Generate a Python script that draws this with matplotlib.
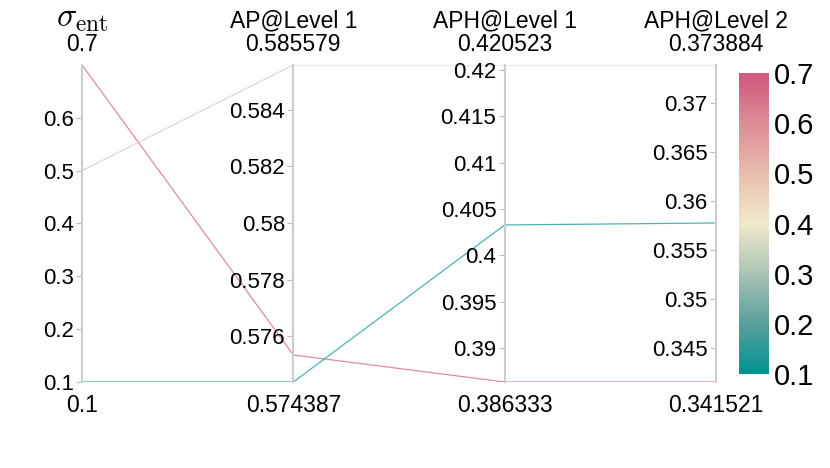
import matplotlib.pyplot as plt
import numpy as np
from matplotlib.colors import LinearSegmentedColormap

plt.rcParams['font.family'] = ['Liberation Sans', 'DejaVu Sans']
plt.rcParams['mathtext.fontset'] = 'cm'

# dimensions of the parallel coordinates plot
dim_labels = [r'$\sigma_{\mathrm{ent}}$', 'AP@Level 1', 'APH@Level 1', 'APH@Level 2']
sigma_ent = [0.7, 0.5, 0.1]
ap_l1 = [0.575340, 0.585579, 0.574387]
aph_l1 = [0.386333, 0.420523, 0.403266]
aph_l2 = [0.341521, 0.373884, 0.357754]

range_labels_top = ['0.7', '0.585579', '0.420523', '0.373884']
range_labels_bottom = ['0.1', '0.574387', '0.386333', '0.341521']

dim_ticks = [
    [0.1, 0.2, 0.3, 0.4, 0.5, 0.6],
    [0.576, 0.578, 0.58, 0.582, 0.584],
    [0.39, 0.395, 0.4, 0.405, 0.41, 0.415, 0.42],
    [0.345, 0.35, 0.355, 0.36, 0.365, 0.37],
]
cbar_ticks = [0.1, 0.2, 0.3, 0.4, 0.5, 0.6, 0.7]

tealrose = ['#009392', '#5aa09b', '#aac3b4', '#f1eacc', '#e8beaf', '#de8c96', '#d0587e']
cmap = LinearSegmentedColormap.from_list('tealrose', tealrose)

data = np.array([sigma_ent, ap_l1, aph_l1, aph_l2])
lows = data.min(axis=1)
highs = data.max(axis=1)
norm_data = (data - lows[:, None]) / (highs - lows)[:, None]
n_dims = data.shape[0]
xs = np.arange(n_dims)

fig = plt.figure(figsize=(8.3, 4.68), dpi=100)
rect = [0.0988, 0.1838, 0.7639, 0.6774]

host = fig.add_axes(rect)
host.set_xlim(0, n_dims - 1)
host.set_ylim(0, 1)
host.axis('off')

for j in range(data.shape[1]):
    c = cmap((sigma_ent[j] - 0.1) / 0.6)
    host.plot(xs, norm_data[:, j], color=c, lw=0.9, alpha=0.7)

for i in range(n_dims):
    ax = fig.add_axes(rect)
    ax.patch.set_visible(False)
    for s in ['top', 'right', 'bottom']:
        ax.spines[s].set_visible(False)
    ax.spines['left'].set_position(('axes', i / (n_dims - 1)))
    ax.spines['left'].set_color('#cccccc')
    ax.spines['left'].set_linewidth(1.5)
    ax.set_ylim(lows[i], highs[i])
    ax.set_xticks([])
    ax.set_yticks(dim_ticks[i])
    ax.set_yticklabels([f'{t:g}' for t in dim_ticks[i]])
    ax.tick_params(axis='y', length=4, color='#bbbbbb', labelsize=16, pad=2)

    if i == 0:
        host.annotate(dim_labels[i], xy=(i, 1), xycoords=('data', 'axes fraction'),
                      xytext=(0, 22), textcoords='offset points', ha='center', va='bottom',
                      fontsize=24)
    else:
        host.annotate(dim_labels[i], xy=(i, 1), xycoords=('data', 'axes fraction'),
                      xytext=(0, 32), textcoords='offset points', ha='center', va='center',
                      fontsize=16.5)
    host.annotate(range_labels_top[i], xy=(i, 1), xycoords=('data', 'axes fraction'),
                  xytext=(0, 15), textcoords='offset points', ha='center', va='center',
                  fontsize=16.5)
    host.annotate(range_labels_bottom[i], xy=(i, 0), xycoords=('data', 'axes fraction'),
                  xytext=(0, -17), textcoords='offset points', ha='center', va='center',
                  fontsize=16.5)

cax = fig.add_axes([0.890, 0.2009, 0.036, 0.643])
grad = np.linspace(0.1, 0.7, 256).reshape(-1, 1)
cax.imshow(grad, aspect='auto', cmap=cmap, origin='lower', extent=[0, 1, 0.1, 0.7])
cax.set_xticks([])
cax.yaxis.tick_right()
cax.set_yticks(cbar_ticks)
cax.set_yticklabels([f'{t:g}' for t in cbar_ticks])
cax.tick_params(axis='y', length=0, labelsize=21, pad=4)
for s in cax.spines.values():
    s.set_visible(False)

fig.savefig('out.png', dpi=100)
